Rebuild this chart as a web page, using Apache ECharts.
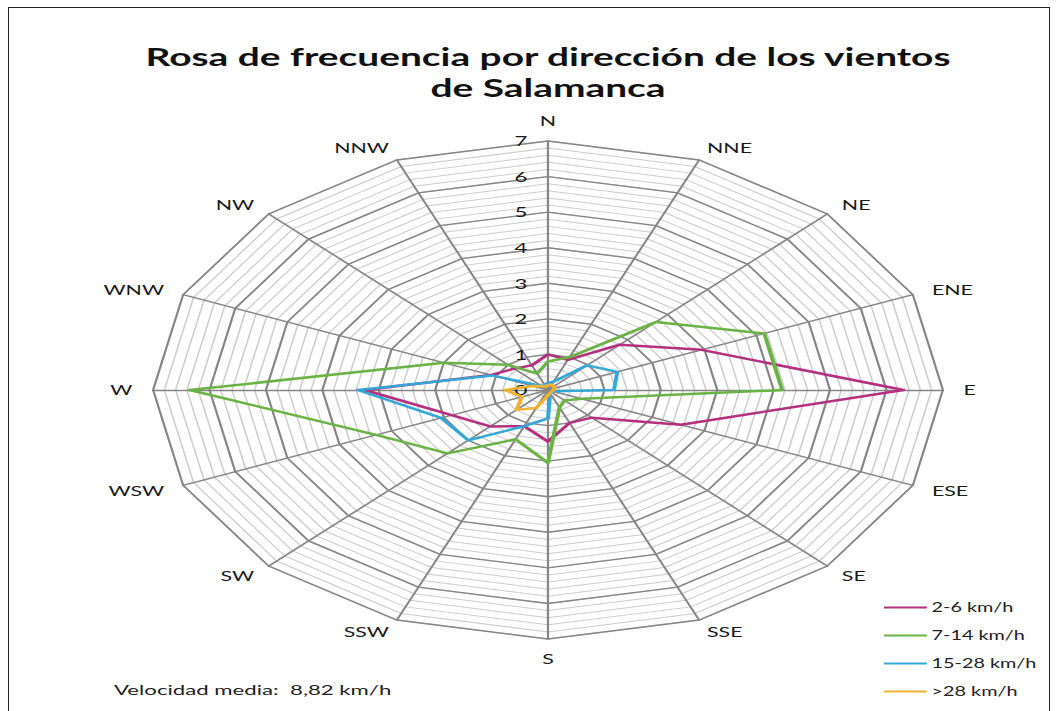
<!DOCTYPE html>
<html>
<head>
<meta charset="utf-8">
<title>Rosa de frecuencia por dirección de los vientos de Salamanca</title>
<script src="https://cdn.jsdelivr.net/npm/echarts@6/dist/echarts.min.js"></script>
<style>
  html, body { margin: 0; padding: 0; background: #fff; overflow: hidden; }
  #chart {
    position: absolute; left: 0; top: 0;
    width: 667px; height: 711px;
    transform: scaleX(1.586); transform-origin: 0 0;
  }
  #frame {
    position: absolute; left: 8px; top: 7px; width: 1042px; height: 720px;
    border: 1.5px solid #222; box-sizing: border-box;
  }
</style>
</head>
<body>
<div id="chart"></div>
<div id="frame"></div>
<script>
// Wind directions, clockwise from north
const directions = ['N', 'NNE', 'NE', 'ENE', 'E', 'ESE', 'SE', 'SSE',
                    'S', 'SSW', 'SW', 'WSW', 'W', 'WNW', 'NW', 'NNW'];

// Frequency (%) per direction for each speed band, same order as directions
const speed2to6   = [1.0, 0.92, 1.8, 2.95, 6.3, 2.55, 1.1, 1.0, 1.45, 1.1, 1.45, 1.85, 3.25, 1.1, 0.85, 0.75];
const speed7to14  = [0.8, 1.0, 2.7, 4.15, 4.15, 0.65, 0.42, 0.53, 2.05, 1.5, 2.52, 3.3, 6.35, 2.0, 1.0, 0.5];
const speed15to28 = [0.2, 0.25, 0.98, 1.33, 1.17, 0.1, 0.1, 0.1, 0.8, 1.1, 2.0, 2.05, 3.37, 1.07, 0.15, 0.15];
const speedOver28 = [0.15, 0.15, 0.15, 0.12, 0.1, 0.08, 0.08, 0.1, 0.15, 0.55, 0.79, 0.5, 0.76, 0.3, 0.15, 0.1];

const seriesNames = ['2-6 km/h', '7-14 km/h', '15-28 km/h', '>28 km/h'];
const seriesColors = ['#b5307f', '#6bb344', '#35a7d9', '#f2b12f'];
const seriesData = [speed2to6, speed7to14, speed15to28, speedOver28];

const tickLabels = ['0', '1', '2', '3', '4', '5', '6', '7'];
const scaleMax = 7;
const footnote = 'Velocidad media:  8,82 km/h';

// Horizontal stretch applied to the whole drawing
const SX = 1.586;
const CX = 548 / SX, CY = 390, R = 249;
const FONT = 'Lato, "Open Sans", sans-serif';

// ECharts lays radar axes counter-clockwise; reorder so they read clockwise
const order = [0].concat(directions.map((d, i) => i).slice(1).reverse());
const fineIndicators = order.map(() => ({ name: '', min: 0, max: scaleMax }));
const mainIndicators = order.map(i => ({ name: directions[i], min: 0, max: scaleMax }));

const chart = echarts.init(document.getElementById('chart'), null, { renderer: 'svg' });

const option = {
  backgroundColor: '#ffffff',
  animation: false,
  textStyle: { fontFamily: FONT },
  graphic: [
    {
      type: 'text', x: CX, y: 41,
      style: {
        text: 'Rosa de frecuencia por dirección de los vientos\nde Salamanca',
        fill: '#111', font: 'bold 24.5px ' + FONT, lineHeight: 31,
        textAlign: 'center', textVerticalAlign: 'top'
      }
    },
    {
      type: 'text', x: 114 / SX, y: 690,
      style: {
        text: footnote, fill: '#222', font: '14px ' + FONT,
        textAlign: 'left', textVerticalAlign: 'middle'
      }
    }
  ],
  legend: {
    orient: 'vertical',
    left: 884 / SX, top: 601, padding: 0,
    icon: 'rect', itemWidth: 27, itemHeight: 2, itemGap: 15,
    textStyle: { fontSize: 12.5, color: '#222', fontFamily: FONT, padding: [0, 0, 0, -2] },
    data: seriesNames
  },
  grid: { left: CX, top: CY - R, width: 1, height: R },
  xAxis: { type: 'value', show: false },
  yAxis: {
    type: 'value', min: 0, max: scaleMax, interval: 1,
    axisLine: { show: false }, axisTick: { show: false }, splitLine: { show: false },
    axisLabel: {
      margin: 13, fontSize: 14, color: '#1a1a1a', fontFamily: FONT,
      formatter: v => tickLabels[v]
    }
  },
  radar: [
    { // fine rings every 0.2
      center: [CX, CY], radius: R, startAngle: 90, shape: 'polygon',
      splitNumber: 35, silent: true,
      indicator: fineIndicators,
      axisName: { show: false },
      axisLine: { show: false },
      splitLine: { lineStyle: { color: '#cdcdcd', width: 1 } },
      splitArea: { show: false }
    },
    { // whole-unit rings, spokes and direction names
      center: [CX, CY], radius: R, startAngle: 90, shape: 'polygon',
      splitNumber: 7, nameGap: 13,
      indicator: mainIndicators,
      axisName: { color: '#1a1a1a', fontSize: 13.5, fontFamily: FONT },
      axisLine: { lineStyle: { color: '#868686', width: 1.4 } },
      splitLine: { lineStyle: { color: '#868686', width: 1.4 } },
      splitArea: { show: false }
    }
  ],
  series: seriesNames.map((name, k) => ({
    name: name,
    type: 'radar',
    radarIndex: 1,
    symbol: 'none',
    color: seriesColors[k],
    lineStyle: { color: seriesColors[k], width: 2.5 },
    data: [{ name: name, value: order.map(i => seriesData[k][i]) }]
  }))
};

chart.setOption(option);
</script>
</body>
</html>
